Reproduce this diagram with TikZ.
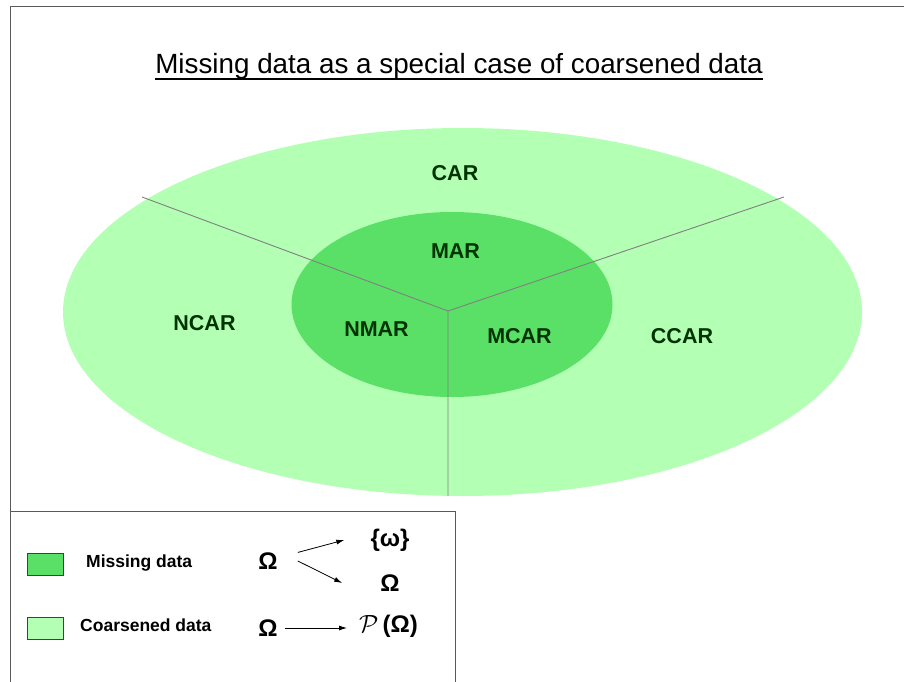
\documentclass[tikz,border=0pt]{standalone}
\usepackage{fontspec}
\setmainfont{Liberation Sans}
\usetikzlibrary{arrows.meta}

\definecolor{coarsegreen}{HTML}{B3FFB3}
\definecolor{missgreen}{HTML}{5AE066}
\definecolor{zonetext}{HTML}{003300}
\definecolor{divgray}{HTML}{808080}
\definecolor{framegray}{HTML}{5A5A5A}

\begin{document}
\begin{tikzpicture}[x=1pt,y=-1pt,
	zone/.style={font=\fontsize{21.5}{24}\selectfont\bfseries,text=zonetext},
	swatch/.style={draw=black!75,line width=0.8pt,minimum width=36pt,minimum height=22pt,inner sep=0pt},
	legtext/.style={font=\fontsize{17.5}{20}\selectfont\bfseries,inner sep=0pt,anchor=west},
	sym/.style={font=\fontsize{24}{26}\selectfont\bfseries,inner sep=0pt},
	legarrow/.style={-{Latex[length=8pt,width=5pt]},line width=0.8pt},
	border/.style={draw=framegray,line width=1pt}]
	\useasboundingbox (0,0) rectangle (904,682);
	% frame and title
	\draw[border] (904,7) -- (10,7) -- (10,682);
	\node[inner sep=0pt,font=\fontsize{27.8}{32}\selectfont,anchor=base] (title) at (459,74)
		{Missing data as a special case of coarsened data};
	\draw[line width=1.6pt] ([yshift=-5pt]title.base west) -- ([yshift=-5pt]title.base east);
	% the two regions
	\fill[coarsegreen] (462.5,312) ellipse [x radius=399.5pt,y radius=184pt];
	\fill[missgreen] (452,304.5) ellipse [x radius=160.5pt,y radius=92.5pt];
	\coordinate (hub) at (448,311);
	\coordinate (nw) at (142,197);
	\coordinate (ne) at (784,197);
	\coordinate (so) at (448,496);
	\draw[divgray,line width=0.9pt] (hub) -- (nw) (hub) -- (ne) (hub) -- (so);
	\node[zone] (car) at (455,173.5) {CAR};
	\node[zone] (mar) at (455.5,251) {MAR};
	\node[zone] (ncar) at (204.5,323.5) {NCAR};
	\node[zone] (nmar) at (376.5,329) {NMAR};
	\node[zone] (mcar) at (519.5,336.5) {MCAR};
	\node[zone] (ccar) at (682,336.5) {CCAR};
	% legend
	\draw[border] (10,511) -- (455,511) -- (455,682);
	\node[swatch,fill=missgreen] (misbox) at (45,564) {};
	\node[swatch,fill=coarsegreen] (coabox) at (45,628) {};
	\node[legtext] (mislabel) at (86,563) {Missing data};
	\node[legtext] (coalabel) at (80,625) {Coarsened data};
	\node[sym] (omA) at (268,561) {Ω};
	\node[sym] (omset) at (390,540) {\{ω\}};
	\node[sym] (omsub) at (390,583) {Ω};
	\node[sym] (omB) at (268,628) {Ω};
	\node[sym] (power) at (388.5,626) {{\fontsize{30}{32}\selectfont$\mathcal{P}$}\,(Ω)};
	\draw[legarrow] ([xshift=20pt]omA.north east) -- ([xshift=-26pt]omset.west);
	\draw[legarrow] ([xshift=20pt]omA.east) -- ([xshift=-38pt]omsub.west);
	\draw[legarrow] ([xshift=7pt]omB.east) -- ([xshift=-12pt]power.west |- omB.east);
\end{tikzpicture}
\end{document}
